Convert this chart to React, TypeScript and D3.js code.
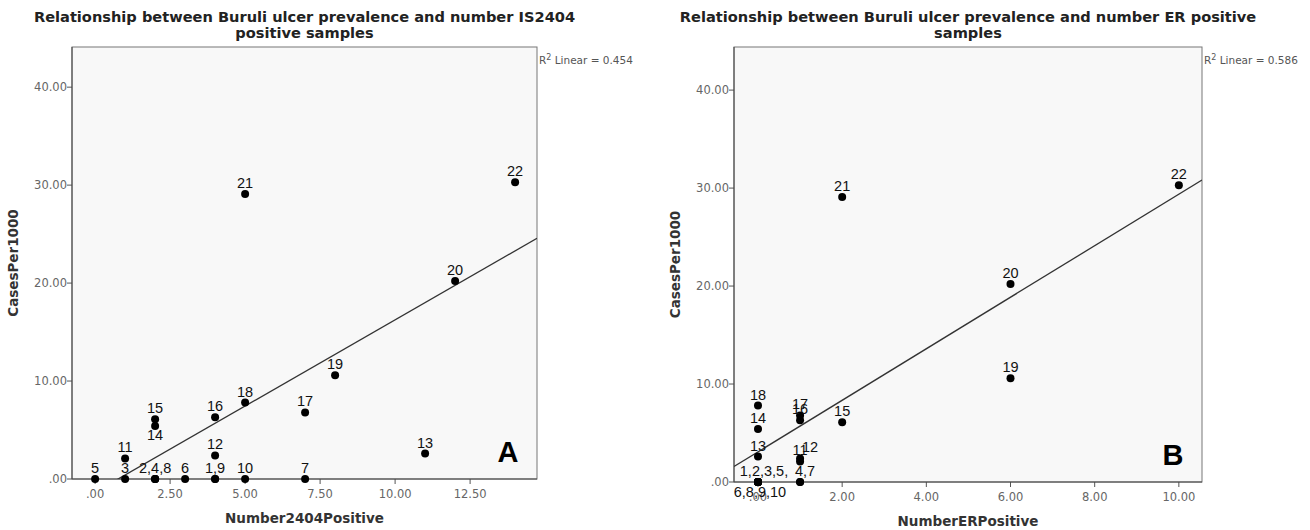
import React from "react";
import * as d3 from "d3";

// case numbers 1..22 and the values
const caseIds = [1, 2, 3, 4, 5, 6, 7, 8, 9, 10, 11, 12, 13, 14, 15, 16, 17, 18, 19, 20, 21, 22];
const casesPer1000 = [0, 0, 0, 0, 0, 0, 0, 0, 0, 0, 2.1, 2.4, 2.6, 5.4, 6.1, 6.3, 6.8, 7.8, 10.6, 20.2, 29.1, 30.3];
const number2404Positive = [4, 2, 1, 2, 0, 3, 7, 2, 4, 5, 1, 4, 11, 2, 2, 4, 7, 5, 8, 12, 5, 14];
const numberERPositive = [0, 0, 0, 1, 0, 0, 1, 0, 0, 0, 1, 1, 0, 0, 2, 1, 1, 0, 6, 6, 2, 10];

// point labels: text and the case it sits on
const labelsA = [
  { text: "5", id: 5 }, { text: "3", id: 3 }, { text: "2,4,8", id: 2 }, { text: "6", id: 6 },
  { text: "1,9", id: 1 }, { text: "10", id: 10 }, { text: "7", id: 7 }, { text: "11", id: 11 },
  { text: "12", id: 12 }, { text: "13", id: 13 }, { text: "14", id: 14 }, { text: "15", id: 15 },
  { text: "16", id: 16 }, { text: "17", id: 17 }, { text: "18", id: 18 }, { text: "19", id: 19 },
  { text: "20", id: 20 }, { text: "21", id: 21 }, { text: "22", id: 22 },
];
const labelsB = [
  { text: "1,2,3,5,", id: 1 }, { text: "6,8,9,10", id: 6 }, { text: "4,7", id: 4 },
  { text: "11", id: 11 }, { text: "12", id: 12 }, { text: "13", id: 13 }, { text: "14", id: 14 },
  { text: "15", id: 15 }, { text: "16", id: 16 }, { text: "17", id: 17 }, { text: "18", id: 18 },
  { text: "19", id: 19 }, { text: "20", id: 20 }, { text: "21", id: 21 }, { text: "22", id: 22 },
];

const yTicks = [0, 10, 20, 30, 40];
const yTickLabels = [".00", "10.00", "20.00", "30.00", "40.00"];
const xTicksA = [0, 2.5, 5, 7.5, 10, 12.5];
const xTickLabelsA = [".00", "2.50", "5.00", "7.50", "10.00", "12.50"];
const xTicksB = [0, 2, 4, 6, 8, 10];
const xTickLabelsB = [".00", "2.00", "4.00", "6.00", "8.00", "10.00"];

// fit lines as drawn (intercept, slope) and R2
const fitA = [-1.35, 1.76];
const fitB = [3.08, 2.63];
const r2A = "0.454";
const r2B = "0.586";

// label nudges (px): placement only
const placeA: Record<string, [number, number]> = { "14": [0, 14] };
const placeB: Record<string, [number, number]> = {
  "1,2,3,5,": [6, -6], "6,8,9,10": [2, 15], "4,7": [5, -6], "12": [10, -6],
};

type PanelProps = {
  id: string;
  title: string[];
  xTitle: string;
  xs: number[];
  xDomain: [number, number];
  yMax: number;
  left: number;
  right: number;
  bottom: number;
  xTicks: number[];
  xTickLabels: string[];
  labels: { text: string; id: number }[];
  place: Record<string, [number, number]>;
  fit: number[];
  r2: string;
  letter: string;
};

function Panel(p: PanelProps) {
  const top = 47;
  const x = d3.scaleLinear().domain(p.xDomain).range([p.left, p.right]);
  const y = d3.scaleLinear().domain([0, p.yMax]).range([p.bottom, top]);
  const cx = (p.left + p.right) / 2;
  const line = d3.line<number>().x((d) => x(d)).y((d) => y(p.fit[0] + p.fit[1] * d));
  const tickFont = { fontFamily: "DejaVu Sans", fontSize: 11.5, fill: "#666" };
  return (
    <g>
      <defs>
        <clipPath id={"clip" + p.id}>
          <rect x={p.left} y={top} width={p.right - p.left} height={p.bottom - top} />
        </clipPath>
      </defs>
      {p.title.map((t, i) => (
        <text key={i} x={cx} y={22 + i * 16} textAnchor="middle" fontFamily="DejaVu Sans" fontWeight="bold" fontSize={14.6} fill="#222">
          {t}
        </text>
      ))}
      <rect x={p.left} y={top} width={p.right - p.left} height={p.bottom - top} fill="#f8f8f8" stroke="#777" strokeWidth={1} />
      <text x={p.right + 2} y={64} fontFamily="DejaVu Sans" fontSize={10.5} fill="#555">
        R<tspan dy={-4} fontSize={8}>2</tspan>
        <tspan dy={4}> Linear = {p.r2}</tspan>
      </text>
      {yTicks.map((t, i) => (
        <g key={"y" + i}>
          <line x1={p.left - 5} x2={p.left} y1={y(t)} y2={y(t)} stroke="#555" />
          <text x={p.left - 5} y={y(t) + 4} textAnchor="end" {...tickFont}>{yTickLabels[i]}</text>
        </g>
      ))}
      {p.xTicks.map((t, i) => (
        <g key={"x" + i}>
          <line x1={x(t)} x2={x(t)} y1={p.bottom} y2={p.bottom + 5} stroke="#555" />
          <text x={x(t)} y={p.bottom + 19} textAnchor="middle" {...tickFont}>{p.xTickLabels[i]}</text>
        </g>
      ))}
      <line x1={p.left} x2={p.right} y1={p.bottom} y2={p.bottom} stroke="#444" />
      <line x1={p.left} x2={p.left} y1={top} y2={p.bottom} stroke="#444" />
      <path d={line(p.xDomain) || ""} fill="none" stroke="#333" strokeWidth={1.3} clipPath={`url(#clip${p.id})`} />
      {caseIds.map((c, i) => (
        <circle key={c} cx={x(p.xs[i])} cy={y(casesPer1000[i])} r={4} fill="#000" />
      ))}
      {p.labels.map((l) => {
        const i = caseIds.indexOf(l.id);
        const [dx, dy] = p.place[l.text] || [0, -6];
        return (
          <text key={l.text} x={x(p.xs[i]) + dx} y={y(casesPer1000[i]) + dy} textAnchor="middle" fontFamily="Liberation Sans" fontSize={14.5} fill="#111">
            {l.text}
          </text>
        );
      })}
      <text x={p.right - 29} y={p.bottom - 17} textAnchor="middle" fontFamily="Liberation Sans" fontWeight="bold" fontSize={29} fill="#000">
        {p.letter}
      </text>
      <text x={cx} y={p.bottom + 44} textAnchor="middle" fontFamily="DejaVu Sans" fontWeight="bold" fontSize={13.5} fill="#333">
        {p.xTitle}
      </text>
      <text transform={`translate(${p.left - 54},${(top + p.bottom) / 2}) rotate(-90)`} textAnchor="middle" fontFamily="DejaVu Sans" fontWeight="bold" fontSize={13.5} fill="#333">
        CasesPer1000
      </text>
    </g>
  );
}

export default function App() {
  return (
    <svg width={1310} height={530} style={{ position: "absolute", left: 0, top: 0, background: "#fff" }}>
      <Panel
        id="A"
        title={["Relationship between Buruli ulcer prevalence and number IS2404", "positive samples"]}
        xTitle="Number2404Positive"
        xs={number2404Positive}
        xDomain={[-0.77, 14.73]}
        yMax={44.1}
        left={72}
        right={537}
        bottom={479}
        xTicks={xTicksA}
        xTickLabels={xTickLabelsA}
        labels={labelsA}
        place={placeA}
        fit={fitA}
        r2={r2A}
        letter="A"
      />
      <Panel
        id="B"
        title={["Relationship between Buruli ulcer prevalence and number ER positive", "samples"]}
        xTitle="NumberERPositive"
        xs={numberERPositive}
        xDomain={[-0.57, 10.55]}
        yMax={44.4}
        left={734}
        right={1202}
        bottom={482}
        xTicks={xTicksB}
        xTickLabels={xTickLabelsB}
        labels={labelsB}
        place={placeB}
        fit={fitB}
        r2={r2B}
        letter="B"
      />
    </svg>
  );
}
